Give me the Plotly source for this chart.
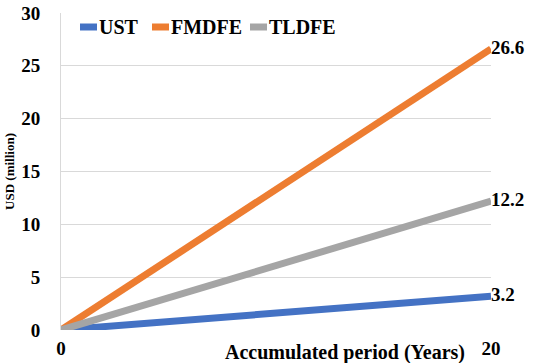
import plotly.graph_objects as go

years = [0, 20]
series_names = ["UST", "FMDFE", "TLDFE"]
ust = [0, 3.2]
fmdfe = [0, 26.6]
tldfe = [0, 12.2]
colors = ["#4472C4", "#ED7D31", "#A5A5A5"]
y_ticks = [0, 5, 10, 15, 20, 25, 30]

font_family = "Liberation Serif"
bold = dict(family=font_family, color="black", weight="bold")

# plot-area geometry in pixels, used to place the legend row
PL, PR, PT, PB = 61, 491, 13, 330
W, H = 540, 363


def px_x(x):
    return (x - PL) / (PR - PL)


def px_y(y):
    return (PB - y) / (PB - PT)


fig = go.Figure()
for name, vals, col in zip(series_names, [ust, fmdfe, tldfe], colors):
    fig.add_trace(go.Scatter(
        x=years, y=vals, name=name, mode="lines+text",
        line=dict(color=col, width=7),
        text=["", f"{vals[-1]:.1f}"],
        textposition="middle right",
        textfont=dict(bold, size=19),
        cliponaxis=False, showlegend=False,
    ))

# legend row across the top of the plot
legend_x = [80, 152, 250]
for name, col, lx in zip(series_names, colors, legend_x):
    fig.add_shape(type="line", xref="paper", yref="paper",
                  x0=px_x(lx), x1=px_x(lx + 17),
                  y0=px_y(27), y1=px_y(27),
                  line=dict(color=col, width=7))
    fig.add_annotation(text=name, xref="paper", yref="paper",
                       x=px_x(lx + 17), y=px_y(27),
                       xanchor="left", yanchor="middle", showarrow=False,
                       font=dict(bold, size=20))

fig.update_layout(
    width=W, height=H,
    margin=dict(l=PL, r=W - PR, t=PT, b=H - PB),
    paper_bgcolor="white", plot_bgcolor="white",
    font=dict(family=font_family, size=16, color="black"),
    showlegend=False,
)
fig.update_xaxes(
    range=[0, 20], tickvals=[0, 20], ticktext=["0", "20"],
    showgrid=False, zeroline=False, showline=False, automargin=False,
    tickfont=dict(bold, size=19),
    ticklabelstandoff=5,
)
fig.update_yaxes(
    range=[0, 30], tickvals=y_ticks, automargin=False,
    showgrid=True, gridcolor="#D9D9D9", gridwidth=1,
    zeroline=False, showline=True, linecolor="#D9D9D9", linewidth=1,
    tickfont=dict(bold, size=19),
    ticklabelstandoff=16,
    title=dict(text="USD (million)", standoff=3,
               font=dict(bold, size=13)),
)
fig.add_annotation(
    text="Accumulated period (Years)", xref="paper", yref="paper",
    x=px_x(345), y=0, yshift=-22, xanchor="center", yanchor="middle",
    showarrow=False,
    font=dict(bold, size=20),
)

fig.write_html("out.html")
